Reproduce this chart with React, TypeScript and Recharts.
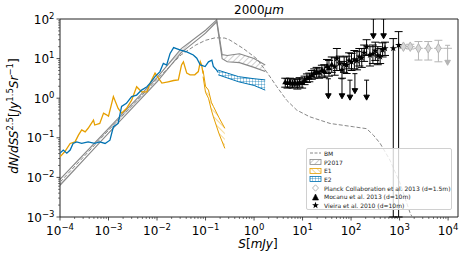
import React from "react";
import {
  ComposedChart,
  Line,
  Area,
  Scatter,
  XAxis,
  YAxis,
  ZAxis,
  ErrorBar,
  ReferenceArea,
  Legend,
} from "recharts";

const FONT = "'DejaVu Sans', sans-serif";
const GRAY = "#888888";
const ORANGE = "#E69F00";
const BLUE = "#0072B2";
const LIGHT = "#b5b5b5";

// BM model (dashed)
const bmS = [1e-4, 1e-3, 0.01, 0.0316, 0.063, 0.1, 0.158, 0.25, 0.316, 0.6, 1.13, 1.8, 2.95, 4.7, 7.6, 14, 37, 112, 209, 288, 398, 631, 1023, 1660, 1820];
const bmV = [0.0076, 0.155, 3.0, 12.5, 22, 29, 33.5, 33, 29.5, 18, 10, 4.7, 1.95, 0.89, 0.5, 0.34, 0.23, 0.19, 0.17, 0.117, 0.072, 0.0275, 0.0071, 0.00123, 0.001];

// P2017 band
const p17S = [1e-4, 1e-3, 0.01, 0.0316, 0.1, 0.17, 0.22, 0.28, 0.5, 1.0, 1.7];
const p17Lo = [0.0063, 0.132, 2.6, 14.1, 44, 85, 10, 8.3, 7.9, 6.0, 4.7];
const p17Hi = [0.0089, 0.174, 3.3, 17.8, 52, 95, 12.6, 12, 13.2, 10, 6.9];

// E1 (orange)
const e1S = [1e-4, 1.26e-4, 1.62e-4, 2.04e-4, 2.4e-4, 2.8e-4, 3.3e-4, 3.8e-4, 4.9e-4, 5.2e-4, 6.6e-4, 7.9e-4, 9.1e-4, 1.0e-3, 1.26e-3, 1.58e-3, 1.86e-3, 2.34e-3, 3.0e-3, 3.8e-3, 4.8e-3, 6.2e-3, 7.2e-3, 9.1e-3, 1.07e-2, 1.26e-2, 1.7e-2, 2.2e-2, 2.75e-2, 3.2e-2, 3.5e-2, 4.1e-2, 4.8e-2, 6.0e-2, 7.1e-2, 7.8e-2, 8.3e-2, 8.9e-2];
const e1V = [0.033, 0.045, 0.072, 0.079, 0.117, 0.158, 0.141, 0.174, 0.28, 0.21, 0.23, 0.42, 0.38, 0.35, 1.1, 0.55, 0.42, 0.55, 0.89, 1.95, 1.45, 1.45, 2.4, 4.3, 3.2, 2.4, 2.6, 2.8, 2.9, 6.9, 8.3, 4.3, 3.9, 3.9, 4.7, 8.3, 6.9, 4.2];
const e1BandS = [0.089, 0.1, 0.115, 0.132, 0.145, 0.19, 0.25];
const e1BandLo = [3.5, 1.4, 1.0, 0.5, 0.34, 0.126, 0.054];
const e1BandHi = [5.0, 2.0, 1.6, 0.79, 0.62, 0.32, 0.174];

// E2 (blue)
const e2S = [1e-4, 1.17e-4, 1.38e-4, 1.62e-4, 1.86e-4, 2.2e-4, 2.8e-4, 3.8e-4, 5.2e-4, 6.6e-4, 8.5e-4, 1.07e-3, 1.26e-3, 1.58e-3, 1.86e-3, 2.34e-3, 3.0e-3, 3.8e-3, 4.8e-3, 6.2e-3, 7.2e-3, 9.1e-3, 1.15e-2, 1.35e-2, 1.58e-2, 1.86e-2, 2.2e-2, 2.95e-2, 4.1e-2, 5.6e-2, 6.6e-2, 7.8e-2, 9.8e-2, 0.115, 0.135, 0.145, 0.17, 0.182];
const e2V = [0.041, 0.049, 0.041, 0.049, 0.072, 0.079, 0.072, 0.079, 0.072, 0.079, 0.072, 0.087, 0.19, 0.23, 0.62, 0.74, 1.1, 1.2, 1.6, 1.95, 2.4, 3.5, 4.7, 7.6, 6.9, 13.5, 19, 16.6, 14.8, 12.3, 10.2, 6.9, 6.3, 8.3, 9.1, 6.3, 5.1, 4.5];
const e2BandS = [0.182, 0.48, 1.0, 1.7];
const e2BandLo = [3.9, 2.6, 2.1, 1.6];
const e2BandHi = [5.1, 3.5, 3.1, 2.9];

// Mocanu et al. 2013
const mocS = [4.4, 4.9, 5.5, 6.2, 6.9, 7.8, 8.7, 9.8, 11, 12.3, 13.8, 15.5, 17.4, 19.5, 21.9, 25, 28, 32, 35, 40];
const mocV = [2.5, 2.4, 2.5, 2.3, 2.45, 2.3, 2.5, 2.4, 2.8, 3.2, 3.3, 3.8, 4.2, 4.6, 4.3, 5.0, 4.8, 6.3, 5.6, 6.9];
const mocLo = [1.9, 1.8, 1.9, 1.8, 1.9, 1.7, 1.9, 1.8, 2.2, 2.5, 2.6, 3.0, 3.2, 3.4, 3.2, 3.6, 3.3, 4.2, 3.6, 4.5];
const mocHi = [3.2, 3.1, 3.2, 2.9, 3.1, 3.0, 3.3, 3.1, 3.6, 4.1, 4.3, 5.0, 5.5, 6.0, 5.8, 6.8, 7.0, 9.5, 9.0, 11];

// Vieira et al. 2010
const vieS = [46, 51, 58, 65, 72, 81, 91, 102, 117, 132, 148, 166, 186, 209, 245, 282, 316, 355, 398, 447, 501, 741, 955];
const vieV = [6.3, 10, 7.6, 5.2, 7.2, 6.9, 8.9, 8.3, 9.5, 8.9, 11.2, 10.5, 14, 20, 12.3, 13.2, 15.8, 12, 11.2, 16.6, 18.2, 18.2, 21.9];
const vieLo = [3.8, 5, 5, 3.2, 4.5, 4.2, 5.5, 5, 5.5, 5.2, 6.5, 6, 8.5, 12, 6.5, 7.5, 9, 7, 7.5, 11, 12, 0.001, 0.001];
const vieHi = [10.5, 18, 11.5, 8.5, 11, 11.5, 14, 13.5, 16, 15, 18, 18, 22, 30, 20, 22, 26, 20, 18, 25, 26, 32, 48];

// upper limits (black)
const ulS = [34, 65, 95, 120, 209, 288, 468];
const ulV = [2.6, 2.6, 2.4, 3.5, 2.4, 85, 85];

// Planck Collaboration et al. 2013
const plS = [1200, 1660, 2450, 3890, 6310];
const plV = [20, 20, 18.2, 18.2, 18.2];
const plLo = [18, 17.5, 9.2, 9.2, 8.3];
const plHi = [22, 23, 27, 27, 29];
const plXLo = [975, 1350, 1990, 3160, 5130];
const plXHi = [1480, 2040, 3010, 4780, 7760];
const plUlS = [9770];
const plUlV = [18.2];
const plUlXLo = [7940];
const plUlXHi = [12000];

const xDecades = [-4, -3, -2, -1, 0, 1, 2, 3, 4];
const yDecades = [-3, -2, -1, 0, 1, 2];
const minors = [1, 2, 3, 4, 5, 6, 7, 8, 9];
const X_MIN = 1e-4;
const X_MAX = 16000;
const Y_MIN = 1e-3;
const Y_MAX = 100;

const xTicks = xDecades
  .flatMap((d) => minors.map((m) => m * Math.pow(10, d)))
  .filter((t) => t <= X_MAX * 1.0001);
const yTicks = yDecades
  .flatMap((d) => minors.map((m) => m * Math.pow(10, d)))
  .filter((t) => t <= Y_MAX * 1.0001);

const toLine = (s: number[], v: number[]) => s.map((x, i) => ({ s: x, v: v[i] }));
const toBand = (s: number[], lo: number[], hi: number[]) =>
  s.map((x, i) => ({ s: x, r: [lo[i], hi[i]] }));
const toPts = (s: number[], v: number[], lo?: number[], hi?: number[], xlo?: number[], xhi?: number[]) =>
  s.map((x, i) => ({
    s: x,
    v: v[i],
    e: lo && hi ? [v[i] - lo[i], hi[i] - v[i]] : [0, 0],
    ex: xlo && xhi ? [x - xlo[i], xhi[i] - x] : [0, 0],
  }));

const bmData = toLine(bmS, bmV);
const p17Data = toBand(p17S, p17Lo, p17Hi);
const e1Data = toLine(e1S, e1V);
const e1Band = toBand(e1BandS, e1BandLo, e1BandHi);
const e2Data = toLine(e2S, e2V);
const e2Band = toBand(e2BandS, e2BandLo, e2BandHi);
const mocData = toPts(mocS, mocV, mocLo, mocHi);
const vieData = toPts(vieS, vieV, vieLo, vieHi);
const ulData = toPts(ulS, ulV);
const plData = toPts(plS, plV, plLo, plHi, plXLo, plXHi);
const plUlData = toPts(plUlS, plUlV, undefined, undefined, plUlXLo, plUlXHi);

const supText = (e: number) => (e < 0 ? "\u2212" + Math.abs(e) : String(e));
const isMajor = (v: number) => {
  const l = Math.log10(v);
  return Math.abs(l - Math.round(l)) < 1e-6;
};

const XTick = (props: any) => {
  const { x, y, payload } = props;
  const major = isMajor(payload.value);
  const e = Math.round(Math.log10(payload.value));
  return (
    <g>
      <line x1={x} x2={x} y1={y} y2={y + (major ? 3.5 : 2)} stroke="#222" strokeWidth={major ? 0.8 : 0.6} />
      {major && (
        <text x={x} y={y + 18} textAnchor="middle" fontSize={12} fill="#000" fontFamily={FONT}>
          10
          <tspan dy={-5} fontSize={8.5}>
            {supText(e)}
          </tspan>
        </text>
      )}
    </g>
  );
};

const YTick = (props: any) => {
  const { x, y, payload } = props;
  const major = isMajor(payload.value);
  const e = Math.round(Math.log10(payload.value));
  return (
    <g>
      <line x1={x} x2={x - (major ? 3.5 : 2)} y1={y} y2={y} stroke="#222" strokeWidth={major ? 0.8 : 0.6} />
      {major && (
        <text x={x - 5.5} y={y + 4.5} textAnchor="end" fontSize={12} fill="#000" fontFamily={FONT}>
          10
          <tspan dy={-5} fontSize={8.5}>
            {supText(e)}
          </tspan>
        </text>
      )}
    </g>
  );
};

const arrowShape = (color: string) => (props: any) => {
  const { cx, cy } = props;
  if (cx == null || cy == null) return <g />;
  return (
    <g stroke={color} fill={color} strokeWidth={1}>
      <line x1={cx - 2.5} x2={cx + 2.5} y1={cy - 3} y2={cy - 3} />
      <line x1={cx} x2={cx} y1={cy - 3} y2={cy + 13} />
      <path d={`M${cx - 2.8},${cy + 12} L${cx + 2.8},${cy + 12} L${cx},${cy + 17} Z`} />
    </g>
  );
};

const legendItems = [
  { label: "BM", icon: "dash" },
  { label: "P2017", icon: "band", color: GRAY, fill: "url(#hGray)" },
  { label: "E1", icon: "band", color: ORANGE, fill: "url(#hOrange)" },
  { label: "E2", icon: "band", color: BLUE, fill: "url(#hBlue)" },
  { label: "Planck Collaboration et al. 2013 (d=1.5m)", icon: "diamond" },
  { label: "Mocanu et al. 2013 (d=10m)", icon: "triangle" },
  { label: "Vieira et al. 2010 (d=10m)", icon: "star" },
];

const LegendIcon = ({ item }: any) => {
  let g: React.ReactNode = null;
  if (item.icon === "dash") {
    g = <line x1={1} x2={12} y1={4} y2={4} stroke={GRAY} strokeWidth={1} strokeDasharray="3 1.5" />;
  } else if (item.icon === "band") {
    g = <rect x={1} y={1.5} width={11} height={5} fill={item.fill} stroke={item.color} strokeWidth={0.8} />;
  } else if (item.icon === "diamond") {
    g = <path d="M6.5,0.8 L9.5,4 L6.5,7.2 L3.5,4 Z" fill="#fff" stroke={LIGHT} strokeWidth={1} />;
  } else if (item.icon === "triangle") {
    g = <path d="M6.5,1 L9.5,7 L3.5,7 Z" fill="#000" stroke="#000" strokeWidth={0.6} />;
  } else {
    g = (
      <path
        d="M6.5,0.8 L7.4,3.2 L9.9,3.2 L7.9,4.7 L8.6,7.2 L6.5,5.7 L4.4,7.2 L5.1,4.7 L3.1,3.2 L5.6,3.2 Z"
        fill="#000"
      />
    );
  }
  return (
    <svg width={13} height={8} style={{ display: "block", flex: "none" }}>
      {g}
    </svg>
  );
};

const renderLegend = () => (
  <div
    style={{
      width: 146,
      height: 62,
      boxSizing: "border-box",
      background: "rgba(255,255,255,0.8)",
      border: "1px solid #d0d0d0",
      borderRadius: 2,
      fontFamily: FONT,
      fontSize: 6,
      color: "#222",
      paddingLeft: 2,
    }}
  >
    {legendItems.map((it) => (
      <div key={it.label} style={{ display: "flex", alignItems: "center", height: 8.7, whiteSpace: "nowrap" }}>
        <LegendIcon item={it} />
        <span style={{ marginLeft: 2 }}>{it.label}</span>
      </div>
    ))}
  </div>
);

export default function App() {
  return (
    <div style={{ position: "absolute", left: 0, top: 0, width: 469, height: 257, background: "#fff" }}>
      <ComposedChart width={469} height={257} margin={{ top: 19, right: 11, bottom: 0, left: 0 }}>
        <defs>
          <pattern id="hGray" patternUnits="userSpaceOnUse" width={4} height={4} patternTransform="rotate(45)">
            <line x1={0} y1={0} x2={0} y2={4} stroke={GRAY} strokeWidth={0.8} />
          </pattern>
          <pattern id="hOrange" patternUnits="userSpaceOnUse" width={4} height={4} patternTransform="rotate(-45)">
            <line x1={0} y1={0} x2={0} y2={4} stroke={ORANGE} strokeWidth={0.8} />
          </pattern>
          <pattern id="hBlue" patternUnits="userSpaceOnUse" width={3} height={3}>
            <line x1={0} y1={0} x2={0} y2={3} stroke={BLUE} strokeWidth={0.7} />
            <line x1={0} y1={0} x2={3} y2={0} stroke={BLUE} strokeWidth={0.7} />
          </pattern>
        </defs>
        <XAxis
          type="number"
          dataKey="s"
          scale="log"
          domain={[X_MIN, X_MAX]}
          allowDataOverflow
          ticks={xTicks}
          interval={0}
          tick={XTick}
          tickSize={0}
          tickMargin={0}
          axisLine={false}
          height={40}
        />
        <YAxis
          type="number"
          scale="log"
          domain={[Y_MIN, Y_MAX]}
          allowDataOverflow
          ticks={yTicks}
          interval={0}
          tick={YTick}
          tickSize={0}
          tickMargin={0}
          axisLine={false}
          width={60}
        />
        <ZAxis zAxisId="pt" range={[16, 16]} />
        <ZAxis zAxisId="pl" range={[26, 26]} />
        <Line data={bmData} dataKey="v" stroke={GRAY} strokeWidth={1} strokeDasharray="4 2" dot={false} isAnimationActive={false} />
        <Area data={p17Data} dataKey="r" stroke={GRAY} strokeWidth={1.1} fill="url(#hGray)" fillOpacity={1} isAnimationActive={false} />
        <Line data={e1Data} dataKey="v" stroke={ORANGE} strokeWidth={1.3} dot={false} isAnimationActive={false} />
        <Area data={e1Band} dataKey="r" stroke={ORANGE} strokeWidth={1} fill="url(#hOrange)" fillOpacity={1} isAnimationActive={false} />
        <Line data={e2Data} dataKey="v" stroke={BLUE} strokeWidth={1.3} dot={false} isAnimationActive={false} />
        <Area data={e2Band} dataKey="r" stroke={BLUE} strokeWidth={1} fill="url(#hBlue)" fillOpacity={1} isAnimationActive={false} />
        <Scatter data={plData} dataKey="v" zAxisId="pl" shape="diamond" fill="#d8d8d8" stroke={LIGHT} isAnimationActive={false}>
          <ErrorBar dataKey="e" direction="y" width={4} stroke={LIGHT} strokeWidth={1} />
          <ErrorBar dataKey="ex" direction="x" width={0} stroke={LIGHT} strokeWidth={1} />
        </Scatter>
        <Scatter data={plUlData} dataKey="v" zAxisId="pl" shape={arrowShape(LIGHT)} isAnimationActive={false}>
          <ErrorBar dataKey="ex" direction="x" width={0} stroke={LIGHT} strokeWidth={1} />
        </Scatter>
        <Scatter data={mocData} dataKey="v" zAxisId="pt" shape="triangle" fill="#000" isAnimationActive={false}>
          <ErrorBar dataKey="e" direction="y" width={4} stroke="#000" strokeWidth={1} />
        </Scatter>
        <Scatter data={vieData} dataKey="v" zAxisId="pt" shape="star" fill="#000" isAnimationActive={false}>
          <ErrorBar dataKey="e" direction="y" width={4} stroke="#000" strokeWidth={1} />
        </Scatter>
        <Scatter data={ulData} dataKey="v" zAxisId="pt" shape={arrowShape("#000")} isAnimationActive={false} />
        <ReferenceArea x1={X_MIN} x2={X_MAX} y1={Y_MIN} y2={Y_MAX} fill="none" stroke="#222" strokeWidth={1} fillOpacity={0} />
        <Legend
          layout="vertical"
          align="center"
          verticalAlign="middle"
          content={renderLegend}
          wrapperStyle={{ left: 306, top: 148, width: 146, height: 62 }}
        />
        <text x={259} y={14} textAnchor="middle" fontSize={12} fontFamily={FONT} fill="#000">
          2000<tspan fontStyle="italic">μm</tspan>
        </text>
        <text x={258} y={248} textAnchor="middle" fontSize={12} fontFamily={FONT} fill="#000" fontStyle="italic">
          S<tspan fontStyle="normal">[</tspan>mJy<tspan fontStyle="normal">]</tspan>
        </text>
        <text
          transform="translate(18,116) rotate(-90)"
          textAnchor="middle"
          fontSize={12}
          fontFamily={FONT}
          fill="#000"
          fontStyle="italic"
        >
          dN/dSS
          <tspan dy={-5} fontSize={8.5} fontStyle="normal">2.5</tspan>
          <tspan dy={5} fontStyle="normal">[</tspan>
          Jy
          <tspan dy={-5} fontSize={8.5} fontStyle="normal">1.5</tspan>
          <tspan dy={5}>Sr</tspan>
          <tspan dy={-5} fontSize={8.5} fontStyle="normal">{"\u2212"}1</tspan>
          <tspan dy={5} fontStyle="normal">]</tspan>
        </text>
      </ComposedChart>
    </div>
  );
}
